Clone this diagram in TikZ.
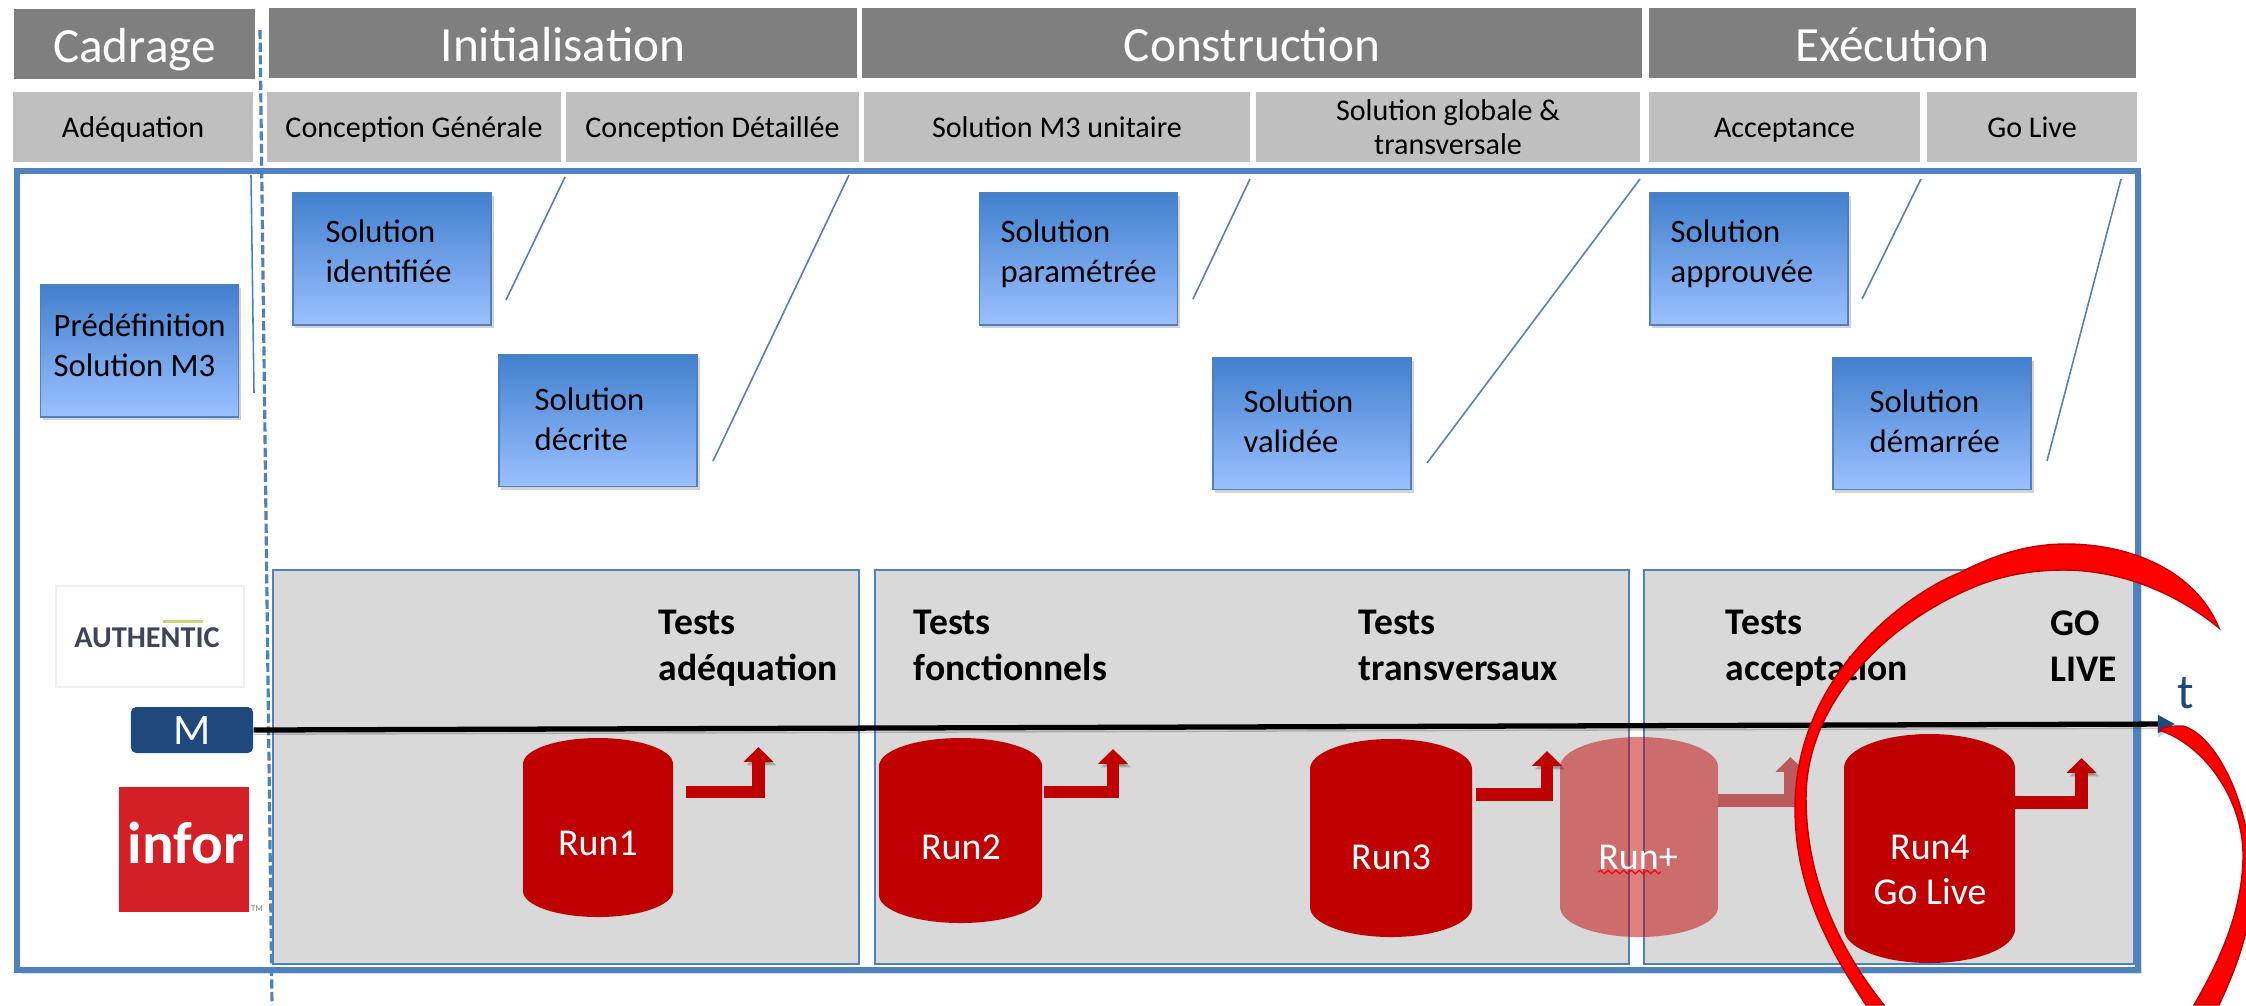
\documentclass[tikz,border=0pt]{standalone}
\usepackage{fontspec}
\setmainfont{Carlito}
\usetikzlibrary{arrows.meta, shadows, decorations.pathmorphing}
\definecolor{headdark}{RGB}{127, 127, 127}
\definecolor{headlight}{RGB}{191, 191, 191}
\definecolor{framblue}{RGB}{79, 129, 189}
\definecolor{boxtop}{RGB}{66, 128, 206}
\definecolor{boxmid}{RGB}{122, 167, 236}
\definecolor{boxbot}{RGB}{155, 192, 255}
\definecolor{panelgray}{RGB}{217, 217, 217}
\definecolor{runred}{RGB}{192, 0, 0}
\definecolor{runfade}{RGB}{186, 90, 90}
\definecolor{navyblue}{RGB}{31, 73, 125}
\definecolor{inforred}{RGB}{212, 31, 39}
\definecolor{authtext}{RGB}{62, 68, 92}
\definecolor{authtag}{RGB}{205, 210, 120}
\newcommand{\rundrum}[6][]{\fill[runred, #1] (#2,#3+#6) arc[start angle=180, end angle=360, x radius={(#4-#2)/2}, y radius=#6] -- (#4,#5-#6) arc[start angle=0, end angle=180, x radius={(#4-#2)/2}, y radius=#6] -- cycle;}
\tikzset{
  phase/.style={fill=headdark, text=white, minimum height=0.70cm, inner sep=0pt, text height=12.6pt, text depth=2pt, font=\fontsize{14}{16}\selectfont},
  stage/.style={fill=headlight, minimum height=0.70cm, inner sep=0pt, align=center, font=\fontsize{8.55}{9.8}\selectfont},
  stageone/.style={stage, text height=7pt, text depth=1.2pt},
  solbox/.style={draw=framblue, line width=0.4pt, top color=boxtop, middle color=boxmid, bottom color=boxbot, minimum width=1.98cm, minimum height=1.32cm, inner sep=0pt, drop shadow={shadow xshift=0.7pt, shadow yshift=-0.9pt, opacity=0.35}},
  sollabel/.style={anchor=west, align=left, inner sep=0pt, font=\fontsize{9.3}{11.4}\selectfont},
  panel/.style={fill=panelgray, draw=framblue, line width=0.45pt, inner sep=0pt},
  testlabel/.style={anchor=west, align=left, inner sep=0pt, font=\bfseries\fontsize{10.7}{13.1}\selectfont},
  runlabel/.style={text=white, align=center, inner sep=0pt, font=\fontsize{10.8}{12.8}\selectfont},
  runarrow/.style={line width=3.6pt, draw=runred, -{Triangle[length=4.2pt, width=8.2pt]}},
  tick/.style={draw=framblue, line width=0.45pt},
  swoosh/.style={fill=red, draw=runred, line width=0.4pt}
}
\begin{document}
\begin{tikzpicture}[x=0.01cm, y=-0.01cm]
\useasboundingbox (0,0) rectangle (2246,1005);
\node[phase, minimum width=2.41cm] (cadrage) at (134.5,44) {Cadrage};
\node[phase, minimum width=5.88cm] (init) at (563,43) {Initialisation};
\node[phase, minimum width=7.80cm] (constr) at (1252,43) {Construction};
\node[phase, minimum width=4.87cm] (exec) at (1892.5,43) {Exécution};
\node[stageone, minimum width=2.40cm] (adeq) at (133,127) {Adéquation};
\node[stageone, minimum width=2.94cm] (cgen) at (414,127) {Conception Générale};
\node[stageone, minimum width=2.93cm] (cdet) at (712.5,127) {Conception Détaillée};
\node[stageone, minimum width=3.86cm] (m3unit) at (1057,127) {Solution M3 unitaire};
\node[stage, minimum width=3.84cm] (global) at (1448,127) {Solution globale \&\\transversale};
\node[stageone, minimum width=2.71cm] (accept) at (1784.5,127) {Acceptance};
\node[stageone, minimum width=2.10cm] (golive) at (2032,127) {Go Live};

\draw[framblue, line width=1.6pt, fill=white, drop shadow={shadow xshift=1pt, shadow yshift=-1.2pt, opacity=0.3}] (17,171) rectangle (2138,970);

\node[panel, minimum width=5.86cm, minimum height=3.94cm] (panelone) at (566,767) {};
\node[panel, minimum width=7.54cm, minimum height=3.94cm] (paneltwo) at (1252,767) {};
\node[panel, minimum width=4.90cm, minimum height=3.94cm] (panelthree) at (1889,767) {};

\coordinate (tickaa) at (251,175); \coordinate (tickab) at (254,393); \draw[tick] (tickaa) -- (tickab);
\coordinate (tickba) at (565,177); \coordinate (tickbb) at (506,300); \draw[tick] (tickba) -- (tickbb);
\coordinate (tickca) at (849,175); \coordinate (tickcb) at (713,461); \draw[tick] (tickca) -- (tickcb);
\coordinate (tickda) at (1250,179); \coordinate (tickdb) at (1193,299); \draw[tick] (tickda) -- (tickdb);
\coordinate (tickea) at (1640,179); \coordinate (tickeb) at (1427,463); \draw[tick] (tickea) -- (tickeb);
\coordinate (tickfa) at (1921,179); \coordinate (tickfb) at (1862,299); \draw[tick] (tickfa) -- (tickfb);
\coordinate (tickga) at (2121,179); \coordinate (tickgb) at (2047,461); \draw[tick] (tickga) -- (tickgb);

\node[solbox] (predef) at (139.5,351) {};
\node[solbox] (identif) at (392,259) {};
\node[solbox] (decrite) at (598,420.5) {};
\node[solbox] (param) at (1078.5,259) {};
\node[solbox] (valid) at (1312,423.5) {};
\node[solbox] (approuv) at (1749,259) {};
\node[solbox] (demarr) at (1932,423.5) {};
\node[sollabel] (predeftxt) at (53,345) {Prédéfinition\\Solution M3};
\node[sollabel] (identiftxt) at (325,251) {Solution\\identifiée};
\node[sollabel] (decritetxt) at (534,419) {Solution\\décrite};
\node[sollabel] (paramtxt) at (1000,254) {Solution\\paramétrée};
\node[sollabel] (validtxt) at (1243,421) {Solution\\validée};
\node[sollabel] (approuvtxt) at (1670,254) {Solution\\approuvée};
\node[sollabel] (demarrtxt) at (1869,421) {Solution\\démarrée};

\node[draw=black!6, fill=white, minimum width=1.88cm, minimum height=1.01cm] (authbox) at (150,636.5) {};
\node[text=authtext, inner sep=0pt, font=\fontsize{8.6}{10}\selectfont\bfseries] (authtxt) at (147,638) {AUTHENTIC};
\fill[authtag] (163,620) rectangle (203,623);
\node[fill=navyblue, rounded corners=1.5pt, minimum width=1.22cm, minimum height=0.46cm, inner sep=0pt, text=white, font=\fontsize{12.4}{14}\selectfont] (mbox) at (192,730) {M};
\node[fill=inforred, minimum width=1.30cm, minimum height=1.25cm, inner sep=0pt] (infor) at (184,849.5) {};
\node[text=white, inner sep=0pt, font=\bfseries\fontsize{16.8}{18}\selectfont] (infortxt) at (186,843) {infor};
\node[text=black!50, inner sep=0pt, font=\fontsize{2.5}{3}\selectfont] (tm) at (257,909) {TM};

\node[testlabel] (testone) at (658,648) {Tests\\adéquation};
\node[testlabel] (testtwo) at (913,645) {Tests\\fonctionnels};
\node[testlabel] (testthree) at (1358,645) {Tests\\transversaux};
\node[testlabel] (testfour) at (1725,648) {Tests\\acceptation};
\node[testlabel] (testfive) at (2050,646) {GO\\LIVE};

\draw[framblue, line width=0.9pt, dash pattern=on 2.6pt off 1pt] (260,30) -- (272,1005);

\rundrum{523}{738}{673}{917}{26}
\rundrum{879}{738}{1042}{923}{28}
\rundrum{1310}{739}{1472}{937}{30}
\rundrum[fill opacity=0.5]{1560}{737}{1718}{937}{30}
\rundrum{1844}{734}{2015}{963}{34}
\node[runlabel] (runone) at (598,843) {Run1};
\node[runlabel] (runtwo) at (961,847) {Run2};
\node[runlabel] (runthree) at (1391,857) {Run3};
\node[runlabel] (runplus) at (1638,857) {Run+};
\node[runlabel] (runfour) at (1930,870) {Run4\\Go Live};
\coordinate (wavya) at (1598,872); \coordinate (wavyb) at (1661,872);
\draw[red, line width=0.35pt, decorate, decoration={snake, amplitude=0.5pt, segment length=2.2pt}] (wavya) -- (wavyb);

\coordinate (oneout) at (686,792); \coordinate (oneup) at (758.5,747);
\coordinate (twoout) at (1044,792); \coordinate (twoup) at (1113,749);
\coordinate (threeout) at (1476,794.5); \coordinate (threeup) at (1547,751);
\coordinate (plusout) at (1718,800.5); \coordinate (plusup) at (1790.5,757);
\coordinate (fourout) at (2009,802.5); \coordinate (fourup) at (2081.5,758);
\foreach \aa/\bb in {oneout/oneup, twoout/twoup, threeout/threeup, fourout/fourup}
  \draw[runarrow, preaction={draw=black, opacity=0.22, transform canvas={shift={(0.8pt,-1pt)}}}] (\aa) -| (\bb);
\draw[runarrow, draw=runfade] (plusout) -| (plusup);

\coordinate (axisend) at (2175,724);
\draw[line width=1.5pt, black, -{Triangle[length=4.9pt, width=4.9pt, color=navyblue]}, preaction={draw=black, opacity=0.2, transform canvas={shift={(0pt,-1.2pt)}}}] (mbox.east) -- (axisend);
\node[text=navyblue, inner sep=0pt, font=\fontsize{14}{16}\selectfont] (tlabel) at (2186,693) {t};

\fill[swoosh] (2219,628) .. controls (2195,570) and (2130,544) .. (2066,544)
  .. controls (2020,544) and (1985,560) .. (1959,573)
  .. controls (1900,597) and (1795,680) .. (1795,808)
  .. controls (1795,890) and (1830,950) .. (1866,1005)
  -- (1884,1005) .. controls (1840,950) and (1806,880) .. (1806,798)
  .. controls (1806,700) and (1890,620) .. (1979,585)
  .. controls (2010,573) and (2040,570) .. (2063,570)
  .. controls (2130,570) and (2185,600) .. (2219,628) -- cycle;
\fill[swoosh] (2159,730) .. controls (2165,726) and (2175,726) .. (2183,726)
  .. controls (2215,735) and (2250,800) .. (2252,880)
  .. controls (2252,930) and (2235,970) .. (2219,1005)
  -- (2194,1005) .. controls (2220,960) and (2243,910) .. (2243,855)
  .. controls (2243,800) and (2205,745) .. (2159,730) -- cycle;
\end{tikzpicture}
\end{document}
